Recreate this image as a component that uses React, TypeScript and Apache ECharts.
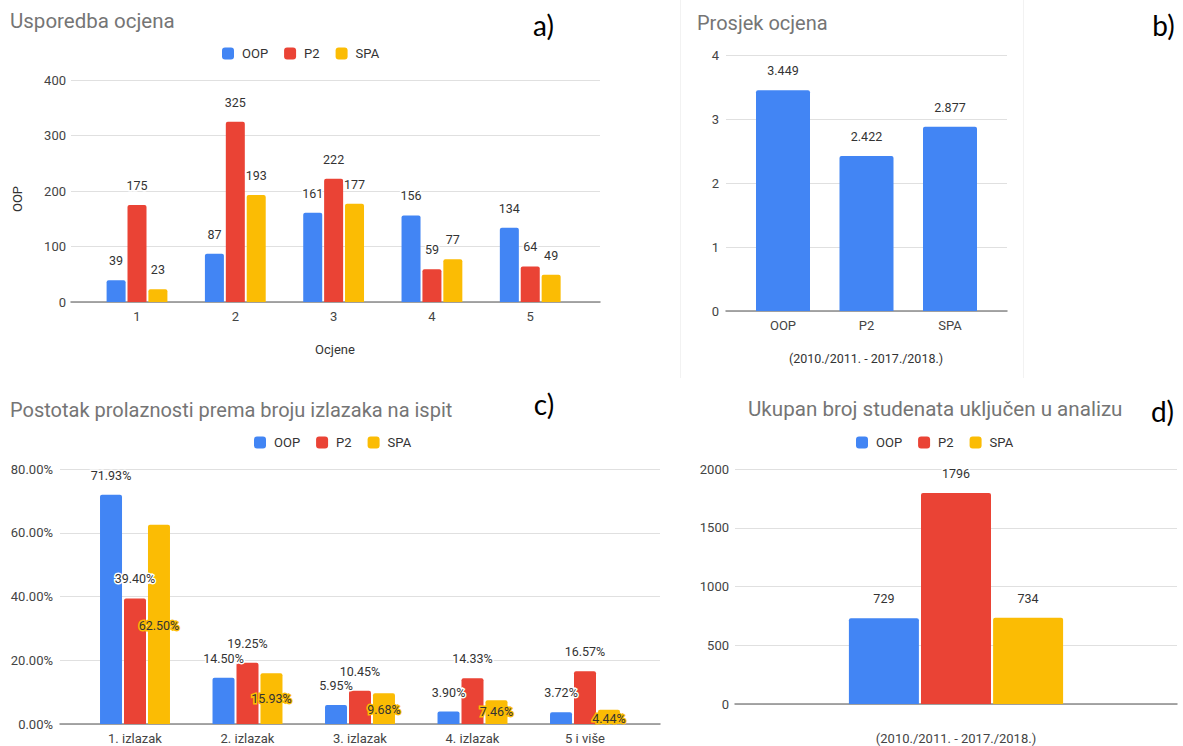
import React, { useEffect, useRef } from "react";
import * as echarts from "echarts";

// ---------- data ----------
const seriesNames = ["OOP", "P2", "SPA"];
const seriesColors = ["#4285f4", "#ea4335", "#fbbc04"];

// a) Usporedba ocjena
const gradeCategories = ["1", "2", "3", "4", "5"];
const gradesOOP = [39, 87, 161, 156, 134];
const gradesP2 = [175, 325, 222, 59, 64];
const gradesSPA = [23, 193, 177, 77, 49];

// b) Prosjek ocjena
const avgCategories = ["OOP", "P2", "SPA"];
const avgValues = [3.449, 2.422, 2.877];

// c) Postotak prolaznosti prema broju izlazaka na ispit
const attemptCategories = ["1. izlazak", "2. izlazak", "3. izlazak", "4. izlazak", "5 i više"];
const passOOP = [71.93, 14.5, 5.95, 3.9, 3.72];
const passP2 = [39.4, 19.25, 10.45, 14.33, 16.57];
const passSPA = [62.5, 15.93, 9.68, 7.46, 4.44];

// d) Ukupan broj studenata
const totalCategory = ["(2010./2011. - 2017./2018.)"];
const totalOOP = [729];
const totalP2 = [1796];
const totalSPA = [734];

// label placement tweaks (pixels) for SPA labels in panel c
const spaLabelShiftC = [120, 45, 36, 31, 28];

const FONT = "Roboto";
const GRID_COLOR = "#e0e0e0";
const BASE_COLOR = "#8a8a8a";
const AXIS_TEXT = "#444";
const VALUE_TEXT = "#333";

function decoX(gridIndex: number) {
  return {
    type: "category",
    gridIndex,
    data: [""],
    axisLine: { show: true, lineStyle: { color: BASE_COLOR, width: 1.5 } },
    axisTick: { show: false },
    axisLabel: { show: false },
    splitLine: { show: false },
  };
}

function barX(gridIndex: number, data: string[], margin: number) {
  return {
    type: "category",
    gridIndex,
    data,
    axisLine: { show: false },
    axisTick: { show: false },
    axisLabel: { margin, color: AXIS_TEXT, fontSize: 13, fontFamily: FONT },
    splitLine: { show: false },
  };
}

function decoY(gridIndex: number, max: number, interval: number, margin: number, fmt: (v: number) => string) {
  return {
    type: "value",
    gridIndex,
    min: 0,
    max,
    interval,
    axisLine: { show: false },
    axisTick: { show: false },
    axisLabel: {
      margin,
      color: AXIS_TEXT,
      fontSize: 13,
      fontFamily: FONT,
      formatter: (v: number) => fmt(v),
    },
    splitLine: { show: true, lineStyle: { color: GRID_COLOR, width: 1 } },
  };
}

function hiddenY(gridIndex: number, max: number) {
  return { type: "value", gridIndex, min: 0, max, show: false, splitLine: { show: false } };
}

function valueLabel(fmt: (v: number) => string, border = "#fff") {
  return {
    show: true,
    position: "top",
    distance: 13,
    color: VALUE_TEXT,
    fontSize: 12.5,
    fontFamily: FONT,
    textBorderColor: border,
    textBorderWidth: 3,
    formatter: (p: any) => fmt(p.value),
  };
}

export default function App() {
  const ref = useRef<HTMLDivElement>(null);

  useEffect(() => {
    if (!ref.current) return;
    const chart = echarts.init(ref.current, undefined, { renderer: "svg" });

    const gradeSeries = [gradesOOP, gradesP2, gradesSPA];
    const passSeries = [passOOP, passP2, passSPA];
    const totalSeries = [totalOOP, totalP2, totalSPA];

    const series: any[] = [];

    gradeSeries.forEach((vals, i) => {
      series.push({
        type: "bar",
        name: seriesNames[i],
        xAxisIndex: 1,
        yAxisIndex: 1,
        data: vals,
        barWidth: 19,
        barGap: "10%",
        itemStyle: { color: seriesColors[i], borderRadius: [2, 2, 0, 0] },
        label: valueLabel((v) => String(v)),
      });
    });

    series.push({
      type: "bar",
      name: "Prosjek",
      xAxisIndex: 3,
      yAxisIndex: 3,
      data: avgValues,
      barWidth: 54,
      itemStyle: { color: seriesColors[0], borderRadius: [2, 2, 0, 0] },
      label: valueLabel((v) => v.toFixed(3)),
    });

    passSeries.forEach((vals, i) => {
      const isSpa = i === 2;
      series.push({
        type: "bar",
        name: seriesNames[i],
        xAxisIndex: 5,
        yAxisIndex: 5,
        data: isSpa
          ? vals.map((v, k) => ({ value: v, label: { offset: [0, spaLabelShiftC[k]] } }))
          : vals,
        barWidth: 22,
        barGap: "9%",
        itemStyle: { color: seriesColors[i], borderRadius: [2, 2, 0, 0] },
        label: valueLabel((v) => v.toFixed(2) + "%", isSpa ? "#fbbc04" : "#fff"),
      });
    });

    totalSeries.forEach((vals, i) => {
      series.push({
        type: "bar",
        name: seriesNames[i],
        xAxisIndex: 6,
        yAxisIndex: 6,
        data: vals,
        barWidth: 70,
        barGap: "3%",
        itemStyle: { color: seriesColors[i], borderRadius: [2, 2, 0, 0] },
        label: valueLabel((v) => String(v)),
      });
    });

    const legendBase = {
      data: seriesNames,
      icon: "roundRect",
      itemWidth: 12,
      itemHeight: 12,
      itemGap: 16,
      padding: 0,
      selectedMode: false,
      textStyle: { fontSize: 13, color: VALUE_TEXT, fontFamily: FONT, padding: [0, 0, 0, 3] },
    };

    const txt = (text: string, x: number, y: number, font: string, fill: string, align = "left", rotation = 0) => ({
      type: "text",
      x,
      y,
      rotation,
      silent: true,
      style: { text, font, fill, textAlign: align, textVerticalAlign: "middle" },
    });

    const option: any = {
      animation: false,
      backgroundColor: "#fff",
      textStyle: { fontFamily: FONT },
      grid: [
        { left: 71, right: 583, top: 80, bottom: 444 },
        { left: 87.85, right: 603.6, top: 80, bottom: 444 },
        { left: 726, right: 176, top: 55, bottom: 435 },
        { left: 741.25, right: 191.25, top: 55, bottom: 435 },
        { left: 60, right: 523, top: 469, bottom: 22 },
        { left: 78.75, right: 541.75, top: 469, bottom: 22 },
        { left: 735, right: 6, top: 469, bottom: 42 },
      ],
      xAxis: [
        decoX(0),
        barX(1, gradeCategories, 8),
        decoX(2),
        barX(3, avgCategories, 8),
        decoX(4),
        barX(5, attemptCategories, 8),
        {
          ...barX(6, totalCategory, 28),
          axisLine: { show: true, lineStyle: { color: BASE_COLOR, width: 1.5 } },
        },
      ],
      yAxis: [
        decoY(0, 400, 100, 5, (v) => String(v)),
        hiddenY(1, 400),
        decoY(2, 4, 1, 7, (v) => String(v)),
        hiddenY(3, 4),
        decoY(4, 80, 20, 7, (v) => v.toFixed(2) + "%"),
        hiddenY(5, 80),
        decoY(6, 2000, 500, 6, (v) => String(v)),
      ],
      legend: [
        { ...legendBase, left: 222, top: 47 },
        { ...legendBase, left: 254, top: 436 },
        { ...legendBase, left: 856, top: 436 },
      ],
      graphic: [
        { type: "line", silent: true, shape: { x1: 680.5, y1: 0, x2: 680.5, y2: 378 }, style: { stroke: "#f2f2f2", lineWidth: 1 } },
        { type: "line", silent: true, shape: { x1: 1023.5, y1: 0, x2: 1023.5, y2: 378 }, style: { stroke: "#f2f2f2", lineWidth: 1 } },
        txt("Usporedba ocjena", 10, 21, `20.5px ${FONT}`, "#757575"),
        txt("Prosjek ocjena", 697, 23, `20px ${FONT}`, "#757575"),
        txt("Postotak prolaznosti prema broju izlazaka na ispit", 10, 410, `20px ${FONT}`, "#757575"),
        txt("Ukupan broj studenata uključen u analizu", 748, 409, `20.6px ${FONT}`, "#757575"),
        txt("a)", 543.5, 25, `28px Lato`, "#000", "center"),
        txt("b)", 1163.5, 25, `28px Lato`, "#000", "center"),
        txt("c)", 544, 404, `28px Lato`, "#000", "center"),
        txt("d)", 1162.5, 411, `28px Lato`, "#000", "center"),
        txt("OOP", 17, 199, `13px ${FONT}`, VALUE_TEXT, "center", Math.PI / 2),
        txt("Ocjene", 335, 349, `13px ${FONT}`, VALUE_TEXT, "center"),
        txt("(2010./2011. - 2017./2018.)", 866, 358, `12.5px ${FONT}`, VALUE_TEXT, "center"),
      ],
      series,
    };

    chart.setOption(option);
    return () => chart.dispose();
  }, []);

  return (
    <div
      ref={ref}
      style={{ position: "fixed", left: 0, top: 0, width: 1183, height: 746, background: "#fff" }}
    />
  );
}
